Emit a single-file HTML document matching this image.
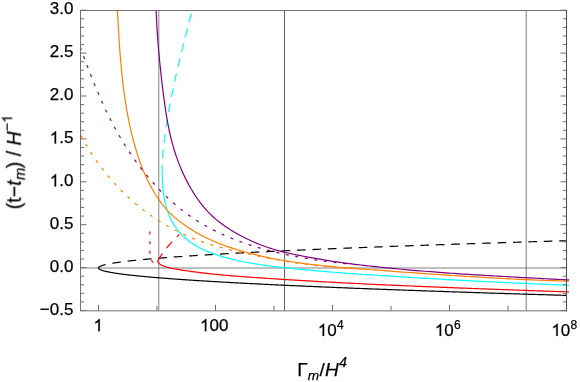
<!DOCTYPE html>
<html><head><meta charset="utf-8"><title>plot</title>
<style>
html,body{margin:0;padding:0;background:#fff;}
body{width:580px;height:382px;overflow:hidden;font-family:"Liberation Sans",sans-serif;}
svg{display:block}
text{font-family:"Liberation Sans",sans-serif;fill:#000;stroke:#000;stroke-width:0.25px}
</style></head><body>
<svg width="580" height="382" viewBox="0 0 580 382">
<rect width="580" height="382" fill="#fff"/>
<line x1="80.5" x2="566.5" y1="267.95" y2="267.95" stroke="#c0c0c0" stroke-width="1.9"/>
<g stroke="#666">
<line x1="158.8" x2="158.8" y1="10.5" y2="310.85" stroke-width="0.8"/>
<line x1="284.5" x2="284.5" y1="10.5" y2="310.85" stroke-width="1" stroke="#626262"/>
<line x1="526.2" x2="526.2" y1="10.5" y2="310.85" stroke-width="0.85"/>
</g>
<g>
<path d="M98.50,267.95 L98.50,268.02 L98.51,268.09 L98.53,268.16 L98.55,268.23 L98.57,268.29 L98.61,268.36 L98.64,268.43 L98.69,268.50 L98.74,268.57 L98.79,268.64 L98.86,268.71 L98.92,268.78 L99.00,268.84 L99.08,268.91 L99.16,268.98 L99.25,269.05 L99.35,269.12 L99.45,269.19 L99.56,269.26 L99.68,269.33 L99.80,269.39 L99.92,269.46 L100.06,269.53 L100.19,269.60 L100.34,269.67 L100.49,269.74 L100.64,269.81 L100.80,269.88 L100.97,269.94 L101.15,270.01 L101.33,270.08 L101.51,270.15 L101.70,270.22 L101.90,270.29 L102.10,270.36 L102.31,270.43 L102.52,270.49 L102.74,270.56 L102.97,270.63 L103.20,270.70 L103.44,270.77 L103.69,270.84 L103.94,270.91 L104.19,270.98 L104.45,271.04 L104.72,271.11 L104.99,271.18 L105.27,271.25 L105.56,271.32 L105.85,271.39 L106.15,271.46 L106.45,271.53 L106.76,271.59 L107.07,271.66 L107.39,271.73 L107.72,271.80 L108.05,271.87 L108.39,271.94 L108.73,272.01 L109.08,272.08 L109.44,272.14 L109.80,272.21 L110.17,272.28 L110.54,272.35 L110.92,272.42 L111.31,272.49 L111.70,272.56 L112.09,272.63 L112.50,272.69 L112.90,272.76 L113.32,272.83 L113.74,272.90 L114.17,272.97 L114.60,273.04 L115.04,273.11 L115.48,273.18 L115.93,273.24 L116.39,273.31 L116.85,273.38 L117.31,273.45 L117.79,273.52 L118.27,273.59 L118.75,273.66 L119.24,273.73 L119.74,273.79 L120.24,273.86 L120.75,273.93 L121.26,274.00 L121.79,274.07 L122.31,274.14 L122.84,274.21 L123.38,274.28 L123.93,274.34 L124.48,274.41 L125.03,274.48 L125.59,274.55 L126.16,274.62 L126.73,274.69 L127.31,274.76 L127.90,274.83 L128.49,274.89 L129.08,274.96 L129.69,275.03 L130.30,275.10 L130.91,275.17 L131.53,275.24 L132.16,275.31 L132.79,275.38 L133.43,275.44 L134.07,275.51 L134.72,275.58 L135.38,275.65 L136.04,275.72 L136.70,275.79 L137.38,275.86 L138.06,275.93 L138.74,276.00 L139.43,276.06 L140.13,276.13 L140.83,276.20 L141.54,276.27 L142.25,276.34 L142.97,276.41 L143.70,276.48 L144.43,276.55 L145.17,276.61 L145.91,276.68 L146.66,276.75 L147.42,276.82 L148.18,276.89 L148.95,276.96 L149.72,277.03 L150.50,277.10 L151.28,277.16 L152.08,277.23 L152.87,277.30 L153.67,277.37 L154.48,277.44 L155.30,277.51 L156.12,277.58 L156.94,277.65 L157.78,277.71 L158.61,277.78 L159.46,277.85 L160.31,277.92 L161.16,277.99 L162.02,278.06 L162.89,278.13 L163.76,278.20 L164.64,278.26 L165.53,278.33 L166.42,278.40 L167.31,278.47 L168.22,278.54 L169.13,278.61 L170.04,278.68 L170.96,278.75 L171.89,278.81 L172.82,278.88 L173.76,278.95 L174.70,279.02 L175.65,279.09 L176.60,279.16 L177.57,279.23 L178.53,279.30 L179.51,279.36 L180.48,279.43 L181.47,279.50 L182.46,279.57 L183.46,279.64 L184.46,279.71 L185.47,279.78 L186.48,279.85 L187.50,279.91 L188.53,279.98 L189.56,280.05 L190.60,280.12 L191.64,280.19 L192.69,280.26 L193.75,280.33 L194.81,280.40 L195.87,280.46 L196.95,280.53 L198.03,280.60 L199.11,280.67 L200.20,280.74 L201.30,280.81 L202.40,280.88 L203.51,280.95 L204.62,281.01 L205.74,281.08 L206.87,281.15 L208.00,281.22 L209.14,281.29 L210.28,281.36 L211.43,281.43 L212.59,281.50 L213.75,281.56 L214.91,281.63 L216.09,281.70 L217.27,281.77 L218.45,281.84 L219.64,281.91 L220.84,281.98 L222.04,282.05 L223.25,282.11 L224.46,282.18 L225.68,282.25 L226.91,282.32 L228.14,282.39 L229.38,282.46 L230.62,282.53 L231.87,282.60 L233.13,282.66 L234.39,282.73 L235.65,282.80 L236.93,282.87 L238.21,282.94 L239.49,283.01 L240.78,283.08 L242.08,283.15 L243.38,283.21 L244.69,283.28 L246.00,283.35 L247.32,283.42 L248.65,283.49 L249.98,283.56 L251.32,283.63 L252.66,283.70 L254.01,283.77 L255.36,283.83 L256.73,283.90 L258.09,283.97 L259.47,284.04 L260.84,284.11 L262.23,284.18 L263.62,284.25 L265.02,284.32 L266.42,284.38 L267.83,284.45 L269.24,284.52 L270.66,284.59 L272.09,284.66 L273.52,284.73 L274.95,284.80 L276.40,284.87 L277.85,284.93 L279.30,285.00 L280.76,285.07 L282.23,285.14 L283.70,285.21 L285.18,285.28 L286.67,285.35 L288.16,285.42 L289.65,285.48 L291.15,285.55 L292.66,285.62 L294.18,285.69 L295.70,285.76 L297.22,285.83 L298.75,285.90 L300.29,285.97 L301.83,286.03 L303.38,286.10 L304.94,286.17 L306.50,286.24 L308.07,286.31 L309.64,286.38 L311.22,286.45 L312.80,286.52 L314.39,286.58 L315.99,286.65 L317.59,286.72 L319.20,286.79 L320.81,286.86 L322.43,286.93 L324.06,287.00 L325.69,287.07 L327.33,287.13 L328.97,287.20 L330.62,287.27 L332.28,287.34 L333.94,287.41 L335.60,287.48 L337.28,287.55 L338.95,287.62 L340.64,287.68 L342.33,287.75 L344.03,287.82 L345.73,287.89 L347.44,287.96 L349.15,288.03 L350.87,288.10 L352.59,288.17 L354.33,288.23 L356.06,288.30 L357.81,288.37 L359.56,288.44 L361.31,288.51 L363.07,288.58 L364.84,288.65 L366.61,288.72 L368.39,288.78 L370.17,288.85 L371.96,288.92 L373.76,288.99 L375.56,289.06 L377.37,289.13 L379.18,289.20 L381.00,289.27 L382.83,289.33 L384.66,289.40 L386.50,289.47 L388.34,289.54 L390.19,289.61 L392.04,289.68 L393.91,289.75 L395.77,289.82 L397.64,289.88 L399.52,289.95 L401.41,290.02 L403.30,290.09 L405.19,290.16 L407.10,290.23 L409.00,290.30 L410.92,290.37 L412.84,290.43 L414.76,290.50 L416.69,290.57 L418.63,290.64 L420.57,290.71 L422.52,290.78 L424.48,290.85 L426.44,290.92 L428.41,290.99 L430.38,291.05 L432.36,291.12 L434.34,291.19 L436.33,291.26 L438.33,291.33 L440.33,291.40 L442.34,291.47 L444.35,291.54 L446.37,291.60 L448.40,291.67 L450.43,291.74 L452.46,291.81 L454.51,291.88 L456.56,291.95 L458.61,292.02 L460.67,292.09 L462.74,292.15 L464.81,292.22 L466.89,292.29 L468.97,292.36 L471.06,292.43 L473.16,292.50 L475.26,292.57 L477.37,292.64 L479.48,292.70 L481.60,292.77 L483.73,292.84 L485.86,292.91 L488.00,292.98 L490.14,293.05 L492.29,293.12 L494.44,293.19 L496.60,293.25 L498.77,293.32 L500.94,293.39 L503.12,293.46 L505.30,293.53 L507.49,293.60 L509.69,293.67 L511.89,293.74 L514.10,293.80 L516.31,293.87 L518.53,293.94 L520.76,294.01 L522.99,294.08 L525.23,294.15 L527.47,294.22 L529.72,294.29 L531.97,294.35 L534.23,294.42 L536.50,294.49 L538.77,294.56 L541.05,294.63 L543.34,294.70 L545.63,294.77 L547.92,294.84 L550.22,294.90 L552.53,294.97 L554.84,295.04 L557.16,295.11 L559.49,295.18 L561.82,295.25 L564.16,295.32 L566.50,295.39" fill="none" stroke="#000" stroke-width="1.2" stroke-linecap="butt" stroke-linejoin="round"/>
<path d="M98.50,267.95 L98.50,267.88 L98.51,267.81 L98.53,267.75 L98.55,267.68 L98.57,267.61 L98.61,267.54 L98.64,267.47 L98.69,267.40 L98.74,267.34 L98.79,267.27 L98.86,267.20 L98.92,267.13 L99.00,267.06 L99.08,267.00 L99.16,266.93 L99.25,266.86 L99.35,266.79 L99.45,266.72 L99.56,266.65 L99.68,266.59 L99.80,266.52 L99.92,266.45 L100.06,266.38 L100.19,266.31 L100.34,266.25 L100.49,266.18 L100.64,266.11 L100.80,266.04 L100.97,265.97 L101.15,265.90 L101.33,265.84 L101.51,265.77 L101.70,265.70 L101.90,265.63 L102.10,265.56 L102.31,265.50 L102.52,265.43 L102.74,265.36 L102.97,265.29 L103.20,265.22 L103.44,265.15 L103.69,265.09 L103.94,265.02 L104.19,264.95 L104.45,264.88 L104.72,264.81 L104.99,264.74 L105.27,264.68 L105.56,264.61 L105.85,264.54 L106.15,264.47 L106.45,264.40 L106.76,264.34 L107.07,264.27 L107.39,264.20 L107.72,264.13 L108.05,264.06 L108.39,263.99 L108.73,263.93 L109.08,263.86 L109.44,263.79 L109.80,263.72 L110.17,263.65 L110.54,263.59 L110.92,263.52 L111.31,263.45 L111.70,263.38 L112.09,263.31 L112.50,263.24 L112.90,263.18 L113.32,263.11 L113.74,263.04 L114.17,262.97 L114.60,262.90 L115.04,262.84 L115.48,262.77 L115.93,262.70 L116.39,262.63 L116.85,262.56 L117.31,262.49 L117.79,262.43 L118.27,262.36 L118.75,262.29 L119.24,262.22 L119.74,262.15 L120.24,262.09 L120.75,262.02 L121.26,261.95 L121.79,261.88 L122.31,261.81 L122.84,261.74 L123.38,261.68 L123.93,261.61 L124.48,261.54 L125.03,261.47 L125.59,261.40 L126.16,261.34 L126.73,261.27 L127.31,261.20 L127.90,261.13 L128.49,261.06 L129.08,260.99 L129.69,260.93 L130.30,260.86 L130.91,260.79 L131.53,260.72 L132.16,260.65 L132.79,260.59 L133.43,260.52 L134.07,260.45 L134.72,260.38 L135.38,260.31 L136.04,260.24 L136.70,260.18 L137.38,260.11 L138.06,260.04 L138.74,259.97 L139.43,259.90 L140.13,259.83 L140.83,259.77 L141.54,259.70 L142.25,259.63 L142.97,259.56 L143.70,259.49 L144.43,259.43 L145.17,259.36 L145.91,259.29 L146.66,259.22 L147.42,259.15 L148.18,259.08 L148.95,259.02 L149.72,258.95 L150.50,258.88 L151.28,258.81 L152.08,258.74 L152.87,258.68 L153.67,258.61 L154.48,258.54 L155.30,258.47 L156.12,258.40 L156.94,258.33 L157.78,258.27 L158.61,258.20 L159.46,258.13 L160.31,258.06 L161.16,257.99 L162.02,257.93 L162.89,257.86 L163.76,257.79 L164.64,257.72 L165.53,257.65 L166.42,257.58 L167.31,257.52 L168.22,257.45 L169.13,257.38 L170.04,257.31 L170.96,257.24 L171.89,257.18 L172.82,257.11 L173.76,257.04 L174.70,256.97 L175.65,256.90 L176.60,256.83 L177.57,256.77 L178.53,256.70 L179.51,256.63 L180.48,256.56 L181.47,256.49 L182.46,256.43 L183.46,256.36 L184.46,256.29 L185.47,256.22 L186.48,256.15 L187.50,256.08 L188.53,256.02 L189.56,255.95 L190.60,255.88 L191.64,255.81 L192.69,255.74 L193.75,255.68 L194.81,255.61 L195.87,255.54 L196.95,255.47 L198.03,255.40 L199.11,255.33 L200.20,255.27 L201.30,255.20 L202.40,255.13 L203.51,255.06 L204.62,254.99 L205.74,254.92 L206.87,254.86 L208.00,254.79 L209.14,254.72 L210.28,254.65 L211.43,254.58 L212.59,254.52 L213.75,254.45 L214.91,254.38 L216.09,254.31 L217.27,254.24 L218.45,254.17 L219.64,254.11 L220.84,254.04 L222.04,253.97 L223.25,253.90 L224.46,253.83 L225.68,253.77 L226.91,253.70 L228.14,253.63 L229.38,253.56 L230.62,253.49 L231.87,253.42 L233.13,253.36 L234.39,253.29 L235.65,253.22 L236.93,253.15 L238.21,253.08 L239.49,253.02 L240.78,252.95 L242.08,252.88 L243.38,252.81 L244.69,252.74 L246.00,252.67 L247.32,252.61 L248.65,252.54 L249.98,252.47 L251.32,252.40 L252.66,252.33 L254.01,252.27 L255.36,252.20 L256.73,252.13 L258.09,252.06 L259.47,251.99 L260.84,251.92 L262.23,251.86 L263.62,251.79 L265.02,251.72 L266.42,251.65 L267.83,251.58 L269.24,251.52 L270.66,251.45 L272.09,251.38 L273.52,251.31 L274.95,251.24 L276.40,251.17 L277.85,251.11 L279.30,251.04 L280.76,250.97 L282.23,250.90 L283.70,250.83 L285.18,250.77 L286.67,250.70 L288.16,250.63 L289.65,250.56 L291.15,250.49 L292.66,250.42 L294.18,250.36 L295.70,250.29 L297.22,250.22 L298.75,250.15 L300.29,250.08 L301.83,250.01 L303.38,249.95 L304.94,249.88 L306.50,249.81 L308.07,249.74 L309.64,249.67 L311.22,249.61 L312.80,249.54 L314.39,249.47 L315.99,249.40 L317.59,249.33 L319.20,249.26 L320.81,249.20 L322.43,249.13 L324.06,249.06 L325.69,248.99 L327.33,248.92 L328.97,248.86 L330.62,248.79 L332.28,248.72 L333.94,248.65 L335.60,248.58 L337.28,248.51 L338.95,248.45 L340.64,248.38 L342.33,248.31 L344.03,248.24 L345.73,248.17 L347.44,248.11 L349.15,248.04 L350.87,247.97 L352.59,247.90 L354.33,247.83 L356.06,247.76 L357.81,247.70 L359.56,247.63 L361.31,247.56 L363.07,247.49 L364.84,247.42 L366.61,247.36 L368.39,247.29 L370.17,247.22 L371.96,247.15 L373.76,247.08 L375.56,247.01 L377.37,246.95 L379.18,246.88 L381.00,246.81 L382.83,246.74 L384.66,246.67 L386.50,246.61 L388.34,246.54 L390.19,246.47 L392.04,246.40 L393.91,246.33 L395.77,246.26 L397.64,246.20 L399.52,246.13 L401.41,246.06 L403.30,245.99 L405.19,245.92 L407.10,245.86 L409.00,245.79 L410.92,245.72 L412.84,245.65 L414.76,245.58 L416.69,245.51 L418.63,245.45 L420.57,245.38 L422.52,245.31 L424.48,245.24 L426.44,245.17 L428.41,245.10 L430.38,245.04 L432.36,244.97 L434.34,244.90 L436.33,244.83 L438.33,244.76 L440.33,244.70 L442.34,244.63 L444.35,244.56 L446.37,244.49 L448.40,244.42 L450.43,244.35 L452.46,244.29 L454.51,244.22 L456.56,244.15 L458.61,244.08 L460.67,244.01 L462.74,243.95 L464.81,243.88 L466.89,243.81 L468.97,243.74 L471.06,243.67 L473.16,243.60 L475.26,243.54 L477.37,243.47 L479.48,243.40 L481.60,243.33 L483.73,243.26 L485.86,243.20 L488.00,243.13 L490.14,243.06 L492.29,242.99 L494.44,242.92 L496.60,242.85 L498.77,242.79 L500.94,242.72 L503.12,242.65 L505.30,242.58 L507.49,242.51 L509.69,242.45 L511.89,242.38 L514.10,242.31 L516.31,242.24 L518.53,242.17 L520.76,242.10 L522.99,242.04 L525.23,241.97 L527.47,241.90 L529.72,241.83 L531.97,241.76 L534.23,241.70 L536.50,241.63 L538.77,241.56 L541.05,241.49 L543.34,241.42 L545.63,241.35 L547.92,241.29 L550.22,241.22 L552.53,241.15 L554.84,241.08 L557.16,241.01 L559.49,240.95 L561.82,240.88 L564.16,240.81 L566.50,240.74" fill="none" stroke="#000" stroke-width="1.2" stroke-linecap="butt" stroke-linejoin="round" stroke-dasharray="8.6 6.834" stroke-dashoffset="0.4"/>
<path d="M157.50,261.04 L158.44,262.85 L159.99,264.15 L161.72,265.20 L163.54,266.07 L165.45,266.79 L167.42,267.37 L169.44,267.86 L171.50,268.27 L173.57,268.65 L175.64,269.01 L177.72,269.37 L179.79,269.71 L181.87,270.04 L183.94,270.37 L186.01,270.68 L188.09,270.99 L190.16,271.29 L192.24,271.58 L194.31,271.86 L196.39,272.13 L198.46,272.39 L200.54,272.65 L202.61,272.90 L204.69,273.15 L206.76,273.38 L208.84,273.61 L210.91,273.84 L212.99,274.05 L215.06,274.26 L217.14,274.47 L219.21,274.67 L221.29,274.87 L223.37,275.06 L225.44,275.24 L227.52,275.43 L229.59,275.60 L231.67,275.78 L233.75,275.95 L235.82,276.11 L237.90,276.27 L239.98,276.43 L242.05,276.59 L244.13,276.75 L246.21,276.90 L248.28,277.05 L250.36,277.20 L252.44,277.35 L254.52,277.49 L256.59,277.64 L258.67,277.78 L260.75,277.92 L262.83,278.06 L264.91,278.20 L266.98,278.34 L269.06,278.48 L271.14,278.62 L273.22,278.76 L275.30,278.89 L277.38,279.03 L279.46,279.16 L281.54,279.29 L283.62,279.43 L285.70,279.56 L287.78,279.69 L289.86,279.82 L291.94,279.94 L294.02,280.07 L296.10,280.20 L298.18,280.32 L300.26,280.45 L302.34,280.57 L304.42,280.70 L306.50,280.82 L308.58,280.94 L310.66,281.06 L312.74,281.18 L314.82,281.30 L316.90,281.42 L318.98,281.54 L321.07,281.65 L323.15,281.77 L325.23,281.88 L327.31,282.00 L329.39,282.11 L331.47,282.22 L333.55,282.34 L335.64,282.45 L337.72,282.56 L339.80,282.67 L341.88,282.78 L343.97,282.88 L346.05,282.99 L348.13,283.10 L350.21,283.21 L352.30,283.31 L354.38,283.42 L356.46,283.52 L358.54,283.62 L360.63,283.73 L362.71,283.83 L364.79,283.93 L366.87,284.03 L368.96,284.13 L371.04,284.23 L373.12,284.33 L375.21,284.43 L377.29,284.53 L379.37,284.62 L381.46,284.72 L383.54,284.82 L385.62,284.91 L387.71,285.01 L389.79,285.10 L391.87,285.20 L393.96,285.29 L396.04,285.38 L398.13,285.47 L400.21,285.57 L402.29,285.66 L404.38,285.75 L406.46,285.84 L408.55,285.93 L410.63,286.02 L412.71,286.11 L414.80,286.19 L416.88,286.28 L418.96,286.37 L421.05,286.46 L423.13,286.54 L425.22,286.63 L427.30,286.71 L429.39,286.80 L431.47,286.88 L433.55,286.97 L435.64,287.05 L437.72,287.13 L439.81,287.22 L441.89,287.30 L443.97,287.38 L446.06,287.47 L448.14,287.55 L450.23,287.63 L452.31,287.71 L454.40,287.79 L456.48,287.87 L458.56,287.95 L460.65,288.03 L462.73,288.11 L464.82,288.19 L466.90,288.27 L468.99,288.34 L471.07,288.42 L473.15,288.50 L475.24,288.58 L477.32,288.66 L479.41,288.73 L481.49,288.81 L483.57,288.89 L485.66,288.96 L487.74,289.04 L489.83,289.12 L491.91,289.19 L493.99,289.27 L496.08,289.34 L498.16,289.42 L500.25,289.49 L502.33,289.57 L504.41,289.64 L506.50,289.72 L508.58,289.79 L510.66,289.86 L512.75,289.94 L514.83,290.01 L516.92,290.09 L519.00,290.16 L521.08,290.23 L523.17,290.31 L525.25,290.38 L527.33,290.45 L529.42,290.53 L531.50,290.60 L533.58,290.67 L535.66,290.75 L537.75,290.82 L539.83,290.89 L541.91,290.97 L544.00,291.04 L546.08,291.11 L548.16,291.18 L550.24,291.26 L552.33,291.33 L554.41,291.40 L556.49,291.48 L558.57,291.55 L560.66,291.62 L562.74,291.69 L564.82,291.77 L566.90,291.84 L568.98,291.91" fill="none" stroke="#ff0000" stroke-width="1.2" stroke-linecap="butt" stroke-linejoin="round"/>
<path d="M157.67,260.81 L157.75,260.66 L157.84,260.51 L157.93,260.37 L158.02,260.22 L158.11,260.07 L158.20,259.93 L158.30,259.78 L158.39,259.64 L158.48,259.49 L158.57,259.34 L158.66,259.20 L158.75,259.05 L158.84,258.91 L158.94,258.76 L159.03,258.62 L159.12,258.47 L159.21,258.33 L159.31,258.18 L159.40,258.04 L159.49,257.89 L159.59,257.75 L159.68,257.61 L159.77,257.46 L159.87,257.32 L159.96,257.18 L160.06,257.03 L160.15,256.89 L160.25,256.75 L160.34,256.60 L160.44,256.46 L160.53,256.32 L160.63,256.18 L160.72,256.03 L160.82,255.89 L160.92,255.75 L161.01,255.61 L161.11,255.46 L161.21,255.32 L161.30,255.18 L161.40,255.04 L161.50,254.90 L161.60,254.76 L161.69,254.62 L161.79,254.48 L161.89,254.34 L161.99,254.20 L162.09,254.06 L162.19,253.92 L162.29,253.78 L162.39,253.64 L162.49,253.50 L162.59,253.36 L162.69,253.22 L162.79,253.08 L162.89,252.94 L162.99,252.80 L163.09,252.66 L163.19,252.52 L163.29,252.39 L163.39,252.25 L163.49,252.11 L163.60,251.97 L163.70,251.83 L163.80,251.70 L163.90,251.56 L164.00,251.42 L164.11,251.28 L164.21,251.15 L164.31,251.01 L164.42,250.87 L164.52,250.74 L164.62,250.60 L164.73,250.46 L164.83,250.33 L164.94,250.19 L165.04,250.06 L165.15,249.92 L165.25,249.78 L165.36,249.65 L165.46,249.51 L165.57,249.38 L165.67,249.24 L165.78,249.11 L165.89,248.97 L165.99,248.84 L166.10,248.71 L166.21,248.57 L166.31,248.44 L166.42,248.30 L166.53,248.17 L166.64,248.04 L166.74,247.90 L166.85,247.77 L166.96,247.64 L167.07,247.50 L167.18,247.37 L167.29,247.24 L167.40,247.11 L167.51,246.97 L167.61,246.84 L167.72,246.71 L167.83,246.58 L167.94,246.44 L168.06,246.31 L168.17,246.18 L168.28,246.05 L168.39,245.92 L168.50,245.79 L168.61,245.66 L168.72,245.53 L168.83,245.40 L168.95,245.27 L169.06,245.13 L169.17,245.00 L169.28,244.87 L169.39,244.75 L169.51,244.62 L169.62,244.49 L169.73,244.36 L169.85,244.23 L169.96,244.10 L170.08,243.97 L170.19,243.84 L170.30,243.71 L170.42,243.58 L170.53,243.45 L170.65,243.33 L170.76,243.20 L170.88,243.07 L171.00,242.94 L171.11,242.82 L171.23,242.69 L171.34,242.56 L171.46,242.43 L171.58,242.31 L171.69,242.18 L171.81,242.05 L171.93,241.93 L172.04,241.80 L172.16,241.67 L172.28,241.55 L172.40,241.42 L172.52,241.30 L172.64,241.17 L172.75,241.04 L172.87,240.92 L172.99,240.79 L173.11,240.67 L173.23,240.54 L173.35,240.42 L173.47,240.29 L173.59,240.17 L173.71,240.05 L173.83,239.92 L173.95,239.80 L174.07,239.67 L174.19,239.55 L174.31,239.42 L174.43,239.30 L174.55,239.17 L174.67,239.05 L174.79,238.93 L174.91,238.80 L175.03,238.68 L175.15,238.55 L175.27,238.43 L175.39,238.31 L175.52,238.18 L175.64,238.06 L175.76,237.94 L175.88,237.81 L176.00,237.69 L176.12,237.57 L176.24,237.44 L176.36,237.32 L176.49,237.20 L176.61,237.07 L176.73,236.95 L176.85,236.83 L176.97,236.70 L177.10,236.58 L177.22,236.46 L177.34,236.34 L177.46,236.21 L177.59,236.09 L177.71,235.97 L177.83,235.84 L177.95,235.72 L178.08,235.60 L178.20,235.48 L178.32,235.36 L178.44,235.23 L178.57,235.11 L178.69,234.99 L178.81,234.87 L178.94,234.75 L179.06,234.62 L179.18,234.50 L179.31,234.38" fill="none" stroke="#ff0000" stroke-width="1.2" stroke-linecap="butt" stroke-linejoin="round" stroke-dasharray="8.6 6.834" stroke-dashoffset="0"/>
<path d="M149.90,231.50 L149.90,231.68 L149.90,231.86 L149.90,232.04 L149.89,232.22 L149.89,232.40 L149.89,232.58 L149.89,232.76 L149.89,232.94 L149.89,233.13 L149.89,233.31 L149.89,233.49 L149.89,233.67 L149.89,233.85 L149.89,234.03 L149.89,234.21 L149.88,234.39 L149.88,234.57 L149.88,234.75 L149.88,234.93 L149.88,235.11 L149.88,235.30 L149.88,235.48 L149.88,235.66 L149.88,235.84 L149.88,236.02 L149.89,236.20 L149.89,236.38 L149.89,236.56 L149.89,236.74 L149.89,236.92 L149.89,237.10 L149.89,237.29 L149.89,237.47 L149.89,237.65 L149.89,237.83 L149.89,238.01 L149.89,238.19 L149.89,238.37 L149.89,238.55 L149.89,238.73 L149.89,238.91 L149.90,239.10 L149.90,239.28 L149.90,239.46 L149.90,239.64 L149.90,239.82 L149.90,240.00 L149.90,240.18 L149.90,240.36 L149.90,240.54 L149.90,240.73 L149.90,240.91 L149.91,241.09 L149.91,241.27 L149.91,241.45 L149.91,241.63 L149.91,241.81 L149.91,241.99 L149.91,242.17 L149.91,242.35 L149.91,242.54 L149.91,242.72 L149.91,242.90 L149.91,243.08 L149.92,243.26 L149.92,243.44 L149.92,243.62 L149.92,243.80 L149.92,243.98 L149.92,244.16 L149.92,244.35 L149.92,244.53 L149.92,244.71 L149.92,244.89 L149.92,245.07 L149.92,245.25 L149.92,245.43 L149.92,245.61 L149.92,245.79 L149.92,245.97 L149.92,246.15 L149.92,246.34 L149.92,246.52 L149.92,246.70 L149.92,246.88 L149.92,247.06 L149.92,247.24 L149.92,247.42 L149.92,247.60 L149.92,247.78 L149.92,247.96 L149.92,248.14 L149.91,248.32 L149.91,248.50 L149.91,248.68 L149.91,248.87 L149.91,249.05 L149.91,249.23 L149.91,249.41 L149.90,249.59 L149.90,249.77 L149.90,249.95 L149.90,250.13 L149.90,250.31 L149.89,250.49 L149.89,250.67 L149.89,250.85 L149.89,251.03 L149.89,251.21 L149.88,251.39 L149.88,251.57 L149.88,251.75 L149.88,251.93 L149.88,252.11 L149.88,252.29 L149.88,252.48 L149.88,252.66 L149.88,252.84 L149.89,253.02 L149.89,253.20 L149.89,253.38 L149.90,253.56 L149.90,253.74 L149.91,253.92 L149.91,254.10 L149.92,254.28 L149.93,254.47 L149.94,254.65 L149.95,254.83 L149.96,255.01 L149.98,255.19 L149.99,255.37 L150.00,255.56 L150.02,255.74 L150.04,255.92 L150.06,256.10 L150.08,256.28 L150.10,256.46 L150.13,256.64 L150.16,256.82 L150.19,257.00 L150.22,257.18 L150.26,257.36 L150.29,257.54 L150.33,257.71 L150.38,257.89 L150.43,258.06 L150.48,258.23 L150.53,258.41 L150.59,258.57 L150.65,258.74 L150.72,258.91 L150.79,259.07 L150.86,259.23 L150.94,259.40 L151.02,259.56 L151.11,259.71 L151.19,259.87 L151.29,260.03 L151.38,260.18 L151.48,260.34 L151.58,260.49 L151.69,260.65 L151.80,260.80 L151.91,260.95 L152.03,261.10 L152.15,261.25 L152.27,261.39 L152.40,261.53 L152.53,261.66 L152.66,261.79 L152.80,261.90 L152.95,262.01 L153.10,262.11 L153.25,262.19 L153.41,262.27 L153.58,262.32 L153.75,262.37 L153.92,262.40 L154.10,262.42 L154.28,262.42 L154.46,262.42 L154.64,262.40 L154.83,262.37 L155.02,262.34 L155.20,262.29 L155.39,262.24 L155.57,262.18 L155.75,262.11 L155.93,262.03 L156.10,261.95 L156.28,261.87 L156.44,261.78 L156.60,261.69 L156.76,261.59 L156.90,261.50 L157.04,261.40 L157.18,261.30 L157.30,261.20" fill="none" stroke="#ff0000" stroke-width="1.2" stroke-linecap="butt" stroke-linejoin="round" stroke-dasharray="3 6.65" stroke-dashoffset="0"/>
<path d="M162.14,164.90 L162.14,167.17 L162.15,169.46 L162.18,171.78 L162.21,174.11 L162.27,176.46 L162.35,178.83 L162.46,181.20 L162.59,183.58 L162.76,185.96 L162.96,188.35 L163.20,190.74 L163.48,193.12 L163.82,195.49 L164.20,197.85 L164.63,200.20 L165.12,202.54 L165.67,204.85 L166.29,207.14 L166.97,209.41 L167.72,211.65 L168.55,213.86 L169.46,216.04 L170.43,218.18 L171.48,220.28 L172.61,222.34 L173.80,224.35 L175.07,226.32 L176.40,228.24 L177.80,230.11 L179.27,231.92 L180.81,233.68 L182.41,235.37 L184.07,237.00 L185.80,238.57 L187.58,240.07 L189.43,241.49 L191.33,242.85 L193.29,244.15 L195.29,245.39 L197.33,246.57 L199.42,247.69 L201.54,248.75 L203.69,249.77 L205.86,250.74 L208.06,251.66 L210.28,252.54 L212.51,253.38 L214.75,254.18 L217.01,254.95 L219.27,255.68 L221.54,256.38 L223.82,257.05 L226.10,257.69 L228.39,258.31 L230.68,258.90 L232.98,259.47 L235.27,260.01 L237.57,260.54 L239.88,261.04 L242.19,261.52 L244.50,261.98 L246.81,262.42 L249.13,262.84 L251.45,263.25 L253.77,263.64 L256.09,264.02 L258.42,264.38 L260.75,264.72 L263.08,265.06 L265.41,265.38 L267.75,265.69 L270.08,265.99 L272.42,266.28 L274.76,266.57 L277.10,266.84 L279.44,267.11 L281.78,267.38 L284.12,267.63 L286.46,267.89 L288.81,268.14 L291.15,268.38 L293.50,268.62 L295.84,268.86 L298.19,269.10 L300.53,269.33 L302.88,269.56 L305.23,269.78 L307.58,270.00 L309.92,270.22 L312.27,270.43 L314.62,270.64 L316.97,270.85 L319.32,271.06 L321.67,271.26 L324.02,271.46 L326.38,271.65 L328.73,271.85 L331.08,272.04 L333.43,272.23 L335.78,272.41 L338.14,272.60 L340.49,272.78 L342.84,272.96 L345.20,273.13 L347.55,273.31 L349.91,273.48 L352.26,273.65 L354.62,273.82 L356.97,273.99 L359.33,274.15 L361.68,274.31 L364.04,274.48 L366.39,274.64 L368.75,274.79 L371.10,274.95 L373.46,275.11 L375.81,275.26 L378.17,275.42 L380.53,275.57 L382.88,275.72 L385.24,275.87 L387.59,276.02 L389.95,276.17 L392.30,276.32 L394.66,276.46 L397.02,276.61 L399.37,276.76 L401.73,276.90 L404.08,277.05 L406.44,277.19 L408.79,277.33 L411.15,277.48 L413.50,277.62 L415.86,277.76 L418.21,277.90 L420.57,278.04 L422.92,278.18 L425.28,278.32 L427.63,278.45 L429.99,278.59 L432.34,278.73 L434.70,278.86 L437.05,279.00 L439.41,279.13 L441.76,279.26 L444.12,279.40 L446.47,279.53 L448.82,279.66 L451.18,279.79 L453.53,279.92 L455.89,280.04 L458.24,280.17 L460.60,280.30 L462.95,280.43 L465.31,280.55 L467.66,280.67 L470.02,280.80 L472.37,280.92 L474.73,281.04 L477.08,281.16 L479.44,281.28 L481.79,281.40 L484.15,281.52 L486.50,281.64 L488.86,281.76 L491.22,281.87 L493.57,281.99 L495.93,282.10 L498.28,282.21 L500.64,282.33 L502.99,282.44 L505.35,282.55 L507.71,282.66 L510.06,282.77 L512.42,282.87 L514.77,282.98 L517.13,283.09 L519.49,283.19 L521.84,283.30 L524.20,283.40 L526.56,283.50 L528.92,283.60 L531.27,283.70 L533.63,283.80 L535.99,283.90 L538.34,284.00 L540.70,284.09 L543.06,284.19 L545.42,284.28 L547.78,284.38 L550.13,284.47 L552.49,284.56 L554.85,284.65 L557.21,284.74 L559.57,284.83 L561.93,284.91 L564.29,285.00 L566.65,285.08 L569.01,285.17" fill="none" stroke="#00ffff" stroke-width="1.2" stroke-linecap="butt" stroke-linejoin="round"/>
<path d="M191.39,13.52 L191.20,14.26 L191.00,15.01 L190.81,15.76 L190.61,16.51 L190.42,17.26 L190.22,18.01 L190.03,18.76 L189.84,19.51 L189.64,20.26 L189.45,21.00 L189.25,21.75 L189.06,22.50 L188.86,23.25 L188.67,24.00 L188.47,24.75 L188.28,25.50 L188.09,26.25 L187.89,27.00 L187.70,27.75 L187.50,28.50 L187.31,29.25 L187.12,30.00 L186.92,30.75 L186.73,31.50 L186.54,32.26 L186.34,33.01 L186.15,33.76 L185.96,34.51 L185.76,35.26 L185.57,36.01 L185.38,36.76 L185.19,37.51 L185.00,38.26 L184.80,39.02 L184.61,39.77 L184.42,40.52 L184.23,41.27 L184.04,42.02 L183.85,42.77 L183.66,43.53 L183.47,44.28 L183.28,45.03 L183.09,45.78 L182.90,46.54 L182.71,47.29 L182.53,48.04 L182.34,48.79 L182.15,49.55 L181.96,50.30 L181.78,51.05 L181.59,51.81 L181.40,52.56 L181.22,53.31 L181.03,54.07 L180.85,54.82 L180.66,55.58 L180.48,56.33 L180.29,57.08 L180.11,57.84 L179.93,58.59 L179.74,59.35 L179.56,60.10 L179.38,60.86 L179.20,61.61 L179.02,62.37 L178.84,63.12 L178.66,63.88 L178.48,64.63 L178.30,65.39 L178.12,66.14 L177.94,66.90 L177.76,67.65 L177.59,68.41 L177.41,69.16 L177.23,69.92 L177.06,70.68 L176.88,71.43 L176.71,72.19 L176.54,72.95 L176.36,73.70 L176.19,74.46 L176.02,75.22 L175.85,75.97 L175.68,76.73 L175.51,77.49 L175.34,78.24 L175.17,79.00 L175.00,79.76 L174.83,80.52 L174.66,81.28 L174.50,82.03 L174.33,82.79 L174.17,83.55 L174.00,84.31 L173.84,85.07 L173.68,85.83 L173.51,86.58 L173.35,87.34 L173.19,88.10 L173.03,88.86 L172.87,89.62 L172.71,90.38 L172.56,91.14 L172.40,91.90 L172.24,92.66 L172.09,93.42 L171.93,94.18 L171.78,94.94 L171.63,95.70 L171.47,96.46 L171.32,97.22 L171.17,97.98 L171.02,98.75 L170.87,99.51 L170.72,100.27 L170.58,101.03 L170.43,101.79 L170.28,102.55 L170.14,103.32 L170.00,104.08 L169.85,104.84 L169.71,105.60 L169.57,106.36 L169.43,107.13 L169.29,107.89 L169.15,108.65 L169.02,109.42 L168.88,110.18 L168.74,110.94 L168.61,111.71 L168.48,112.47 L168.34,113.23 L168.21,114.00 L168.08,114.76 L167.95,115.53 L167.82,116.29 L167.69,117.06 L167.57,117.82 L167.44,118.59 L167.32,119.35 L167.19,120.12 L167.07,120.88 L166.95,121.65 L166.83,122.41 L166.71,123.18 L166.59,123.95 L166.48,124.71 L166.36,125.48 L166.25,126.25 L166.13,127.01 L166.02,127.78 L165.91,128.55 L165.80,129.31 L165.69,130.08 L165.58,130.85 L165.48,131.62 L165.37,132.38 L165.27,133.15 L165.16,133.92 L165.06,134.69 L164.96,135.46 L164.86,136.23 L164.76,137.00 L164.66,137.77 L164.57,138.53 L164.47,139.30 L164.38,140.07 L164.29,140.84 L164.20,141.61 L164.11,142.38 L164.02,143.15 L163.93,143.93 L163.85,144.70 L163.76,145.47 L163.68,146.24 L163.60,147.01 L163.52,147.78 L163.44,148.55 L163.36,149.32 L163.28,150.10 L163.21,150.87 L163.14,151.64 L163.06,152.41 L162.99,153.19 L162.92,153.96 L162.85,154.73 L162.79,155.51 L162.72,156.28 L162.66,157.05 L162.60,157.83 L162.53,158.60 L162.48,159.37 L162.42,160.15 L162.36,160.92 L162.31,161.70 L162.25,162.47 L162.20,163.25 L162.15,164.02 L162.10,164.80" fill="none" stroke="#00ffff" stroke-width="1.2" stroke-linecap="butt" stroke-linejoin="round" stroke-dasharray="8.66 6.77" stroke-dashoffset="0"/>
<path d="M117.37,10.01 L117.54,13.13 L117.71,16.25 L117.88,19.38 L118.06,22.51 L118.24,25.64 L118.42,28.77 L118.61,31.90 L118.80,35.04 L119.00,38.17 L119.20,41.31 L119.42,44.45 L119.64,47.58 L119.87,50.72 L120.10,53.86 L120.35,57.00 L120.61,60.14 L120.88,63.27 L121.16,66.41 L121.46,69.54 L121.77,72.68 L122.09,75.81 L122.43,78.94 L122.79,82.06 L123.16,85.19 L123.55,88.31 L123.95,91.43 L124.38,94.54 L124.82,97.65 L125.28,100.76 L125.77,103.87 L126.27,106.97 L126.80,110.06 L127.35,113.15 L127.93,116.24 L128.52,119.32 L129.15,122.39 L129.80,125.46 L130.47,128.53 L131.17,131.58 L131.90,134.63 L132.66,137.68 L133.45,140.71 L134.27,143.74 L135.11,146.76 L136.00,149.78 L136.91,152.78 L137.86,155.77 L138.86,158.75 L139.89,161.71 L140.97,164.66 L142.09,167.60 L143.26,170.51 L144.48,173.41 L145.75,176.29 L147.08,179.14 L148.46,181.97 L149.90,184.78 L151.40,187.56 L152.95,190.30 L154.56,193.02 L156.23,195.70 L157.95,198.33 L159.74,200.92 L161.60,203.45 L163.53,205.92 L165.53,208.32 L167.63,210.64 L169.80,212.88 L172.06,215.05 L174.39,217.14 L176.78,219.16 L179.23,221.12 L181.73,223.02 L184.28,224.86 L186.86,226.64 L189.48,228.38 L192.14,230.05 L194.83,231.68 L197.55,233.24 L200.31,234.75 L203.09,236.20 L205.90,237.60 L208.74,238.95 L211.60,240.25 L214.48,241.51 L217.39,242.71 L220.32,243.88 L223.26,244.99 L226.22,246.07 L229.19,247.11 L232.18,248.11 L235.18,249.08 L238.18,250.01 L241.20,250.91 L244.22,251.78 L247.24,252.61 L250.28,253.42 L253.31,254.20 L256.36,254.95 L259.41,255.67 L262.46,256.37 L265.52,257.04 L268.59,257.68 L271.66,258.30 L274.73,258.90 L277.81,259.48 L280.90,260.03 L283.99,260.56 L287.08,261.07 L290.17,261.56 L293.27,262.03 L296.38,262.48 L299.48,262.91 L302.59,263.33 L305.71,263.73 L308.82,264.12 L311.94,264.49 L315.06,264.84 L318.19,265.19 L321.31,265.52 L324.44,265.84 L327.57,266.15 L330.70,266.45 L333.83,266.73 L336.97,267.01 L340.10,267.29 L343.24,267.55 L346.38,267.81 L349.51,268.06 L352.65,268.31 L355.79,268.55 L358.93,268.79 L362.07,269.03 L365.21,269.26 L368.35,269.49 L371.48,269.73 L374.62,269.96 L377.76,270.19 L380.89,270.42 L384.03,270.65 L387.17,270.88 L390.30,271.11 L393.44,271.34 L396.57,271.57 L399.70,271.80 L402.84,272.03 L405.97,272.26 L409.10,272.48 L412.24,272.71 L415.37,272.93 L418.50,273.15 L421.63,273.38 L424.76,273.60 L427.90,273.81 L431.03,274.03 L434.16,274.25 L437.29,274.46 L440.42,274.68 L443.55,274.89 L446.68,275.10 L449.81,275.30 L452.94,275.51 L456.08,275.71 L459.21,275.92 L462.34,276.12 L465.47,276.31 L468.60,276.51 L471.73,276.70 L474.86,276.89 L478.00,277.08 L481.13,277.27 L484.26,277.45 L487.39,277.63 L490.53,277.81 L493.66,277.99 L496.79,278.16 L499.93,278.33 L503.06,278.50 L506.20,278.66 L509.33,278.82 L512.47,278.98 L515.61,279.13 L518.74,279.28 L521.88,279.43 L525.02,279.58 L528.16,279.72 L531.30,279.85 L534.44,279.99 L537.58,280.12 L540.72,280.24 L543.86,280.37 L547.01,280.49 L550.15,280.60 L553.29,280.71 L556.44,280.82 L559.59,280.92 L562.73,281.02 L565.88,281.11 L569.03,281.20" fill="none" stroke="#ff8000" stroke-width="1.2" stroke-linecap="butt" stroke-linejoin="round"/>
<path d="M80.64,135.00 L81.38,136.40 L82.13,137.80 L82.89,139.19 L83.66,140.57 L84.44,141.96 L85.23,143.33 L86.04,144.70 L86.85,146.07 L87.67,147.43 L88.50,148.79 L89.33,150.14 L90.18,151.48 L91.04,152.82 L91.91,154.16 L92.79,155.49 L93.67,156.81 L94.57,158.13 L95.47,159.44 L96.39,160.74 L97.31,162.04 L98.24,163.34 L99.18,164.62 L100.13,165.91 L101.09,167.18 L102.06,168.45 L103.03,169.71 L104.02,170.96 L105.01,172.21 L106.01,173.45 L107.02,174.69 L108.04,175.92 L109.07,177.14 L110.11,178.35 L111.15,179.56 L112.21,180.76 L113.27,181.95 L114.34,183.14 L115.41,184.31 L116.50,185.48 L117.59,186.65 L118.70,187.80 L119.81,188.95 L120.92,190.09 L122.05,191.22 L123.18,192.34 L124.32,193.46 L125.47,194.56 L126.63,195.66 L127.79,196.75 L128.97,197.83 L130.15,198.91 L131.33,199.97 L132.53,201.03 L133.73,202.08 L134.94,203.12 L136.15,204.15 L137.38,205.17 L138.61,206.18 L139.84,207.18 L141.09,208.18 L142.34,209.16 L143.60,210.14 L144.86,211.10 L146.14,212.06 L147.42,213.01 L148.70,213.95 L149.99,214.87 L151.29,215.79 L152.60,216.70 L153.91,217.60 L155.23,218.49 L156.56,219.36 L157.89,220.23 L159.23,221.09 L160.57,221.94 L161.92,222.77 L163.28,223.60 L164.64,224.42 L166.01,225.22 L167.38,226.02 L168.76,226.80 L170.15,227.57 L171.54,228.33 L172.94,229.08 L174.35,229.82 L175.76,230.55 L177.17,231.27 L178.59,231.98 L180.02,232.67 L181.45,233.35 L182.89,234.02 L184.33,234.68 L185.78,235.33 L187.23,235.97 L188.69,236.59 L190.16,237.20 L191.63,237.80 L193.10,238.39 L194.58,238.97 L196.07,239.53 L197.55,240.09 L199.05,240.63 L200.55,241.16 L202.05,241.69 L203.55,242.20 L205.06,242.70 L206.58,243.20 L208.09,243.68 L209.61,244.16 L211.14,244.63 L212.66,245.08 L214.19,245.54 L215.72,245.98 L217.26,246.42 L218.80,246.85 L220.34,247.27 L221.88,247.68 L223.42,248.09 L224.97,248.50 L226.51,248.89 L228.06,249.29 L229.61,249.67 L231.17,250.06 L232.72,250.43 L234.27,250.81 L235.83,251.18 L237.38,251.54 L238.94,251.91 L240.49,252.27 L242.05,252.62 L243.61,252.98 L245.16,253.33 L246.72,253.67 L248.28,254.02 L249.84,254.36 L251.40,254.70 L252.95,255.03 L254.51,255.36 L256.07,255.69 L257.63,256.02 L259.19,256.34 L260.75,256.66 L262.31,256.98 L263.88,257.29 L265.44,257.60 L267.00,257.90 L268.56,258.21 L270.12,258.51 L271.69,258.80 L273.25,259.10 L274.81,259.39 L276.38,259.67 L277.94,259.95 L279.51,260.23 L281.07,260.51 L282.64,260.78 L284.21,261.05 L285.77,261.31 L287.34,261.57 L288.91,261.83 L290.48,262.08 L292.05,262.33 L293.62,262.58 L295.19,262.82 L296.76,263.06 L298.33,263.29 L299.90,263.52 L301.47,263.75 L303.05,263.97 L304.62,264.19 L306.20,264.40 L307.77,264.61 L309.35,264.81 L310.92,265.01 L312.50,265.21 L314.08,265.40 L315.66,265.59 L317.24,265.77 L318.82,265.95 L320.40,266.13 L321.98,266.30 L323.57,266.46 L325.15,266.63 L326.74,266.78 L328.32,266.93 L329.91,267.08 L331.50,267.22 L333.08,267.36 L334.67,267.49 L336.26,267.62 L337.85,267.74 L339.45,267.86 L341.04,267.98 L342.63,268.09 L344.23,268.19 L345.83,268.29 L347.42,268.38 L349.02,268.47 L350.62,268.55" fill="none" stroke="#ff8000" stroke-width="1.2" stroke-linecap="butt" stroke-linejoin="round" stroke-dasharray="3 6.65" stroke-dashoffset="-0.6"/>
<path d="M156.10,10.00 L156.22,12.95 L156.35,15.89 L156.49,18.83 L156.64,21.78 L156.80,24.72 L156.97,27.66 L157.16,30.60 L157.35,33.54 L157.55,36.48 L157.76,39.42 L157.99,42.35 L158.22,45.29 L158.46,48.23 L158.71,51.16 L158.97,54.09 L159.24,57.03 L159.52,59.96 L159.81,62.89 L160.11,65.82 L160.41,68.75 L160.72,71.68 L161.04,74.61 L161.37,77.54 L161.71,80.46 L162.05,83.39 L162.40,86.31 L162.76,89.24 L163.13,92.16 L163.50,95.09 L163.88,98.01 L164.27,100.93 L164.67,103.85 L165.09,106.77 L165.51,109.68 L165.96,112.59 L166.42,115.50 L166.91,118.41 L167.41,121.31 L167.95,124.20 L168.51,127.09 L169.10,129.98 L169.73,132.86 L170.39,135.73 L171.08,138.59 L171.81,141.45 L172.58,144.30 L173.39,147.13 L174.24,149.96 L175.12,152.77 L176.05,155.57 L177.01,158.36 L178.02,161.13 L179.07,163.88 L180.16,166.62 L181.29,169.34 L182.47,172.04 L183.69,174.72 L184.96,177.38 L186.27,180.01 L187.63,182.62 L189.03,185.21 L190.48,187.78 L191.98,190.31 L193.53,192.82 L195.13,195.30 L196.78,197.75 L198.47,200.17 L200.23,202.55 L202.03,204.88 L203.90,207.17 L205.83,209.40 L207.81,211.56 L209.86,213.67 L211.97,215.72 L214.13,217.70 L216.35,219.63 L218.63,221.49 L220.95,223.29 L223.32,225.04 L225.73,226.73 L228.19,228.36 L230.68,229.95 L233.20,231.48 L235.76,232.97 L238.34,234.41 L240.94,235.81 L243.57,237.17 L246.21,238.48 L248.87,239.76 L251.54,241.00 L254.23,242.20 L256.93,243.35 L259.65,244.46 L262.39,245.53 L265.14,246.54 L267.92,247.51 L270.71,248.43 L273.52,249.30 L276.34,250.12 L279.18,250.89 L282.04,251.63 L284.90,252.33 L287.77,253.01 L290.66,253.65 L293.54,254.27 L296.44,254.87 L299.33,255.45 L302.23,256.02 L305.12,256.57 L308.02,257.12 L310.92,257.65 L313.82,258.17 L316.72,258.69 L319.62,259.19 L322.52,259.67 L325.42,260.15 L328.33,260.62 L331.23,261.07 L334.14,261.52 L337.05,261.95 L339.96,262.37 L342.87,262.78 L345.79,263.18 L348.71,263.57 L351.63,263.94 L354.55,264.31 L357.48,264.67 L360.40,265.01 L363.33,265.35 L366.26,265.69 L369.19,266.01 L372.12,266.33 L375.05,266.65 L377.98,266.95 L380.92,267.26 L383.85,267.56 L386.78,267.85 L389.71,268.14 L392.65,268.42 L395.58,268.70 L398.51,268.98 L401.45,269.25 L404.38,269.51 L407.31,269.78 L410.25,270.03 L413.18,270.29 L416.12,270.54 L419.06,270.78 L421.99,271.02 L424.93,271.26 L427.86,271.49 L430.80,271.72 L433.74,271.95 L436.67,272.17 L439.61,272.39 L442.55,272.60 L445.49,272.82 L448.42,273.03 L451.36,273.23 L454.30,273.44 L457.24,273.64 L460.18,273.83 L463.12,274.03 L466.06,274.22 L469.00,274.41 L471.93,274.60 L474.87,274.78 L477.81,274.96 L480.75,275.14 L483.69,275.32 L486.63,275.50 L489.57,275.67 L492.52,275.85 L495.46,276.02 L498.40,276.19 L501.34,276.35 L504.28,276.52 L507.22,276.68 L510.16,276.85 L513.10,277.01 L516.04,277.17 L518.99,277.33 L521.93,277.49 L524.87,277.64 L527.81,277.80 L530.75,277.96 L533.70,278.11 L536.64,278.27 L539.58,278.42 L542.52,278.58 L545.46,278.73 L548.41,278.88 L551.35,279.04 L554.29,279.19 L557.23,279.34 L560.18,279.50 L563.12,279.65 L566.06,279.81 L569.00,279.96" fill="none" stroke="#800080" stroke-width="1.2" stroke-linecap="butt" stroke-linejoin="round"/>
<path d="M80.55,47.90 L81.20,49.67 L81.85,51.43 L82.50,53.20 L83.16,54.96 L83.81,56.72 L84.46,58.48 L85.12,60.24 L85.78,62.00 L86.44,63.76 L87.10,65.52 L87.77,67.27 L88.44,69.02 L89.11,70.78 L89.79,72.53 L90.47,74.27 L91.15,76.02 L91.83,77.77 L92.52,79.51 L93.22,81.25 L93.92,82.99 L94.62,84.72 L95.33,86.46 L96.05,88.19 L96.77,89.92 L97.50,91.65 L98.23,93.37 L98.97,95.09 L99.71,96.81 L100.47,98.53 L101.22,100.24 L101.99,101.95 L102.76,103.66 L103.54,105.36 L104.33,107.06 L105.13,108.76 L105.94,110.45 L106.75,112.15 L107.57,113.83 L108.40,115.52 L109.24,117.19 L110.09,118.87 L110.95,120.54 L111.82,122.21 L112.69,123.87 L113.57,125.53 L114.47,127.18 L115.37,128.83 L116.28,130.48 L117.20,132.12 L118.13,133.75 L119.07,135.38 L120.01,137.00 L120.97,138.62 L121.94,140.23 L122.91,141.84 L123.89,143.44 L124.89,145.04 L125.89,146.62 L126.90,148.21 L127.93,149.78 L128.96,151.35 L130.00,152.92 L131.05,154.47 L132.11,156.02 L133.18,157.57 L134.26,159.10 L135.35,160.63 L136.45,162.15 L137.56,163.66 L138.68,165.17 L139.81,166.67 L140.95,168.16 L142.10,169.64 L143.26,171.11 L144.43,172.58 L145.61,174.04 L146.80,175.49 L148.00,176.93 L149.21,178.36 L150.43,179.78 L151.66,181.20 L152.90,182.60 L154.16,184.00 L155.42,185.38 L156.69,186.76 L157.98,188.13 L159.27,189.48 L160.58,190.83 L161.89,192.17 L163.22,193.49 L164.56,194.81 L165.90,196.11 L167.26,197.40 L168.63,198.68 L170.01,199.95 L171.40,201.21 L172.80,202.45 L174.21,203.68 L175.64,204.90 L177.07,206.11 L178.51,207.30 L179.97,208.48 L181.43,209.64 L182.91,210.79 L184.40,211.93 L185.90,213.05 L187.41,214.16 L188.93,215.25 L190.46,216.33 L192.00,217.40 L193.55,218.44 L195.12,219.47 L196.69,220.49 L198.28,221.49 L199.87,222.47 L201.48,223.44 L203.10,224.39 L204.72,225.33 L206.36,226.25 L208.00,227.16 L209.66,228.05 L211.32,228.93 L212.99,229.79 L214.67,230.64 L216.35,231.48 L218.05,232.30 L219.75,233.10 L221.46,233.89 L223.17,234.67 L224.89,235.44 L226.61,236.19 L228.35,236.93 L230.08,237.65 L231.83,238.37 L233.57,239.07 L235.32,239.76 L237.08,240.43 L238.84,241.09 L240.60,241.74 L242.37,242.38 L244.14,243.01 L245.91,243.63 L247.69,244.23 L249.47,244.82 L251.25,245.40 L253.04,245.97 L254.83,246.53 L256.62,247.08 L258.42,247.62 L260.22,248.14 L262.02,248.66 L263.82,249.17 L265.63,249.66 L267.44,250.15 L269.25,250.63 L271.07,251.10 L272.88,251.55 L274.70,252.00 L276.52,252.44 L278.35,252.87 L280.17,253.29 L282.00,253.71 L283.83,254.11 L285.66,254.51 L287.50,254.89 L289.33,255.27 L291.17,255.65 L293.01,256.01 L294.85,256.36 L296.70,256.71 L298.54,257.05 L300.39,257.39 L302.24,257.71 L304.09,258.03 L305.94,258.35 L307.79,258.65 L309.64,258.95 L311.50,259.25 L313.35,259.53 L315.21,259.81 L317.07,260.09 L318.92,260.36 L320.78,260.62 L322.64,260.88 L324.50,261.13 L326.37,261.38 L328.23,261.63 L330.09,261.86 L331.96,262.10 L333.82,262.32 L335.68,262.55 L337.55,262.77 L339.41,262.98 L341.28,263.20 L343.14,263.40 L345.01,263.61 L346.87,263.81 L348.74,264.01 L350.60,264.20" fill="none" stroke="#800080" stroke-width="1.2" stroke-linecap="butt" stroke-linejoin="round" stroke-dasharray="3 6.65" stroke-dashoffset="0.9"/>
</g>
<g stroke="#707070" stroke-width="1">
<line x1="80.5" x2="86.5" y1="310.50" y2="310.50"/>
<line x1="566.5" x2="560.5" y1="310.50" y2="310.50"/>
<line x1="80.5" x2="84.1" y1="301.92" y2="301.92"/>
<line x1="566.5" x2="562.9" y1="301.92" y2="301.92"/>
<line x1="80.5" x2="84.1" y1="293.34" y2="293.34"/>
<line x1="566.5" x2="562.9" y1="293.34" y2="293.34"/>
<line x1="80.5" x2="84.1" y1="284.76" y2="284.76"/>
<line x1="566.5" x2="562.9" y1="284.76" y2="284.76"/>
<line x1="80.5" x2="84.1" y1="276.18" y2="276.18"/>
<line x1="566.5" x2="562.9" y1="276.18" y2="276.18"/>
<line x1="80.5" x2="86.5" y1="267.60" y2="267.60"/>
<line x1="566.5" x2="560.5" y1="267.60" y2="267.60"/>
<line x1="80.5" x2="84.1" y1="259.02" y2="259.02"/>
<line x1="566.5" x2="562.9" y1="259.02" y2="259.02"/>
<line x1="80.5" x2="84.1" y1="250.44" y2="250.44"/>
<line x1="566.5" x2="562.9" y1="250.44" y2="250.44"/>
<line x1="80.5" x2="84.1" y1="241.86" y2="241.86"/>
<line x1="566.5" x2="562.9" y1="241.86" y2="241.86"/>
<line x1="80.5" x2="84.1" y1="233.28" y2="233.28"/>
<line x1="566.5" x2="562.9" y1="233.28" y2="233.28"/>
<line x1="80.5" x2="86.5" y1="224.70" y2="224.70"/>
<line x1="566.5" x2="560.5" y1="224.70" y2="224.70"/>
<line x1="80.5" x2="84.1" y1="216.12" y2="216.12"/>
<line x1="566.5" x2="562.9" y1="216.12" y2="216.12"/>
<line x1="80.5" x2="84.1" y1="207.54" y2="207.54"/>
<line x1="566.5" x2="562.9" y1="207.54" y2="207.54"/>
<line x1="80.5" x2="84.1" y1="198.96" y2="198.96"/>
<line x1="566.5" x2="562.9" y1="198.96" y2="198.96"/>
<line x1="80.5" x2="84.1" y1="190.38" y2="190.38"/>
<line x1="566.5" x2="562.9" y1="190.38" y2="190.38"/>
<line x1="80.5" x2="86.5" y1="181.80" y2="181.80"/>
<line x1="566.5" x2="560.5" y1="181.80" y2="181.80"/>
<line x1="80.5" x2="84.1" y1="173.22" y2="173.22"/>
<line x1="566.5" x2="562.9" y1="173.22" y2="173.22"/>
<line x1="80.5" x2="84.1" y1="164.64" y2="164.64"/>
<line x1="566.5" x2="562.9" y1="164.64" y2="164.64"/>
<line x1="80.5" x2="84.1" y1="156.06" y2="156.06"/>
<line x1="566.5" x2="562.9" y1="156.06" y2="156.06"/>
<line x1="80.5" x2="84.1" y1="147.48" y2="147.48"/>
<line x1="566.5" x2="562.9" y1="147.48" y2="147.48"/>
<line x1="80.5" x2="86.5" y1="138.90" y2="138.90"/>
<line x1="566.5" x2="560.5" y1="138.90" y2="138.90"/>
<line x1="80.5" x2="84.1" y1="130.32" y2="130.32"/>
<line x1="566.5" x2="562.9" y1="130.32" y2="130.32"/>
<line x1="80.5" x2="84.1" y1="121.74" y2="121.74"/>
<line x1="566.5" x2="562.9" y1="121.74" y2="121.74"/>
<line x1="80.5" x2="84.1" y1="113.16" y2="113.16"/>
<line x1="566.5" x2="562.9" y1="113.16" y2="113.16"/>
<line x1="80.5" x2="84.1" y1="104.58" y2="104.58"/>
<line x1="566.5" x2="562.9" y1="104.58" y2="104.58"/>
<line x1="80.5" x2="86.5" y1="96.00" y2="96.00"/>
<line x1="566.5" x2="560.5" y1="96.00" y2="96.00"/>
<line x1="80.5" x2="84.1" y1="87.42" y2="87.42"/>
<line x1="566.5" x2="562.9" y1="87.42" y2="87.42"/>
<line x1="80.5" x2="84.1" y1="78.84" y2="78.84"/>
<line x1="566.5" x2="562.9" y1="78.84" y2="78.84"/>
<line x1="80.5" x2="84.1" y1="70.26" y2="70.26"/>
<line x1="566.5" x2="562.9" y1="70.26" y2="70.26"/>
<line x1="80.5" x2="84.1" y1="61.68" y2="61.68"/>
<line x1="566.5" x2="562.9" y1="61.68" y2="61.68"/>
<line x1="80.5" x2="86.5" y1="53.10" y2="53.10"/>
<line x1="566.5" x2="560.5" y1="53.10" y2="53.10"/>
<line x1="80.5" x2="84.1" y1="44.52" y2="44.52"/>
<line x1="566.5" x2="562.9" y1="44.52" y2="44.52"/>
<line x1="80.5" x2="84.1" y1="35.94" y2="35.94"/>
<line x1="566.5" x2="562.9" y1="35.94" y2="35.94"/>
<line x1="80.5" x2="84.1" y1="27.36" y2="27.36"/>
<line x1="566.5" x2="562.9" y1="27.36" y2="27.36"/>
<line x1="80.5" x2="84.1" y1="18.78" y2="18.78"/>
<line x1="566.5" x2="562.9" y1="18.78" y2="18.78"/>
<line x1="80.5" x2="86.5" y1="10.20" y2="10.20"/>
<line x1="566.5" x2="560.5" y1="10.20" y2="10.20"/>
<line x1="98.50" x2="98.50" y1="310.85" y2="304.85"/>
<line x1="157.00" x2="157.00" y1="310.85" y2="305.85"/>
<line x1="215.50" x2="215.50" y1="310.85" y2="304.85"/>
<line x1="274.00" x2="274.00" y1="310.85" y2="305.85"/>
<line x1="332.50" x2="332.50" y1="310.85" y2="304.85"/>
<line x1="391.00" x2="391.00" y1="310.85" y2="305.85"/>
<line x1="449.50" x2="449.50" y1="310.85" y2="304.85"/>
<line x1="508.00" x2="508.00" y1="310.85" y2="305.85"/>
</g>
<rect x="80.5" y="10.5" width="486.0" height="300.35" fill="none" stroke="#707070" stroke-width="1"/>
<line x1="566.5" x2="566.5" y1="10.0" y2="311.35" stroke="#4c4c4c" stroke-width="1"/>
<g opacity="0.999">
<text x="39.84" y="315.45" font-size="17">−0.5</text>
<text x="49.77" y="272.45" font-size="17">0.0</text>
<text x="49.77" y="229.45" font-size="17">0.5</text>
<path d="M763,0 L583,0 L583,1147 Q518,1085 412.5,1023 Q307,961 223,930 L223,1104 Q374,1175 487,1276 Q600,1377 647,1472 L763,1472 Z" transform="translate(49.77,186.45) scale(0.00830,-0.00830)" fill="#000" stroke="#000" stroke-width="30" /><text x="59.22" y="186.45" font-size="17">.0</text>
<path d="M763,0 L583,0 L583,1147 Q518,1085 412.5,1023 Q307,961 223,930 L223,1104 Q374,1175 487,1276 Q600,1377 647,1472 L763,1472 Z" transform="translate(49.77,143.45) scale(0.00830,-0.00830)" fill="#000" stroke="#000" stroke-width="30" /><text x="59.22" y="143.45" font-size="17">.5</text>
<text x="49.77" y="100.45" font-size="17">2.0</text>
<text x="49.77" y="57.45" font-size="17">2.5</text>
<text x="49.77" y="14.45" font-size="17">3.0</text>
<path d="M763,0 L583,0 L583,1147 Q518,1085 412.5,1023 Q307,961 223,930 L223,1104 Q374,1175 487,1276 Q600,1377 647,1472 L763,1472 Z" transform="translate(93.47,331.20) scale(0.00830,-0.00830)" fill="#000" stroke="#000" stroke-width="30" />
<path d="M763,0 L583,0 L583,1147 Q518,1085 412.5,1023 Q307,961 223,930 L223,1104 Q374,1175 487,1276 Q600,1377 647,1472 L763,1472 Z" transform="translate(200.02,331.20) scale(0.00830,-0.00830)" fill="#000" stroke="#000" stroke-width="30" /><text x="209.47" y="331.20" font-size="17">00</text>
<path d="M763,0 L583,0 L583,1147 Q518,1085 412.5,1023 Q307,961 223,930 L223,1104 Q374,1175 487,1276 Q600,1377 647,1472 L763,1472 Z" transform="translate(317.80,335.90) scale(0.00830,-0.00830)" fill="#000" stroke="#000" stroke-width="30" /><text x="327.25" y="335.90" font-size="17">0</text>
<text x="336.90" y="329.10" font-size="12.0">4</text>
<path d="M763,0 L583,0 L583,1147 Q518,1085 412.5,1023 Q307,961 223,930 L223,1104 Q374,1175 487,1276 Q600,1377 647,1472 L763,1472 Z" transform="translate(434.80,335.90) scale(0.00830,-0.00830)" fill="#000" stroke="#000" stroke-width="30" /><text x="444.25" y="335.90" font-size="17">0</text>
<text x="453.90" y="329.10" font-size="12.0">6</text>
<path d="M763,0 L583,0 L583,1147 Q518,1085 412.5,1023 Q307,961 223,930 L223,1104 Q374,1175 487,1276 Q600,1377 647,1472 L763,1472 Z" transform="translate(551.40,335.90) scale(0.00830,-0.00830)" fill="#000" stroke="#000" stroke-width="30" /><text x="560.85" y="335.90" font-size="17">0</text>
<text x="570.50" y="329.10" font-size="12.0">8</text>
<text x="297.2" y="375.9" font-size="19.0">Γ<tspan font-style="italic" font-size="13.6" dy="4">m</tspan><tspan dy="-4" dx="0.6">/</tspan><tspan font-style="italic" dx="0.2">H</tspan><tspan font-style="italic" font-size="14.3" dy="-8.9" dx="0.3">4</tspan></text>
<g transform="translate(20.8,209.3) rotate(-90)"><text id="yl" x="0" y="0" font-size="19.6">(t−<tspan font-style="italic">t</tspan><tspan font-style="italic" font-size="14.8" dy="4.2" dx="0.3">m</tspan><tspan dy="-4.2" dx="-0.5">) / </tspan><tspan font-style="italic">H</tspan><tspan font-size="14.0" dy="-8.8">−</tspan></text><path d="M763,0 L583,0 L583,1147 Q518,1085 412.5,1023 Q307,961 223,930 L223,1104 Q374,1175 487,1276 Q600,1377 647,1472 L763,1472 Z" transform="translate(86.40,-8.80) scale(0.00684,-0.00684)" fill="#000" stroke="#000" stroke-width="37" /></g>
</g>
</svg>
</body></html>
